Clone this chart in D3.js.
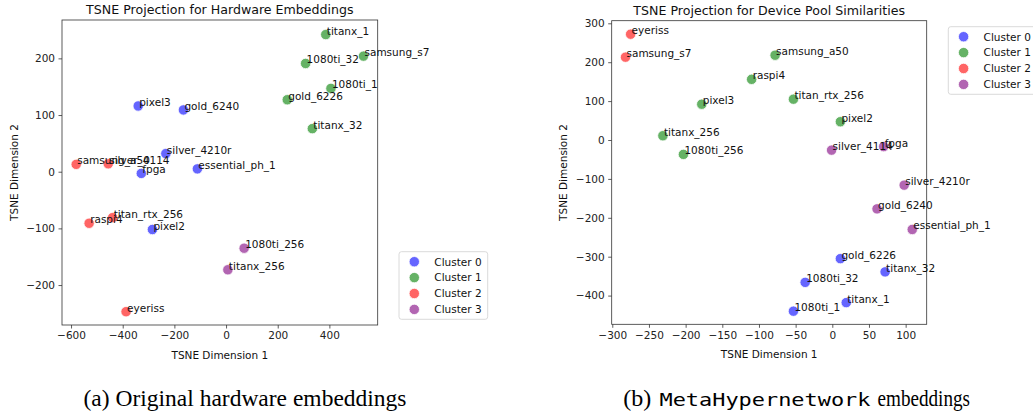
<!DOCTYPE html>
<html><head><meta charset="utf-8">
<script src="https://cdn.jsdelivr.net/npm/d3@7"></script>
<style>body{margin:0;background:#fff}svg{display:block}</style>
</head><body>
<svg id="c" width="1033" height="415"></svg>
<script>
// ---- data ----
const clusterNames = ["Cluster 0","Cluster 1","Cluster 2","Cluster 3"];
const clusterColors = ["blue","green","red","purple"];

const leftNames   = ["titanx_1","samsung_s7","1080ti_32","1080ti_1","gold_6226","titanx_32","pixel3","gold_6240","silver_4210r","samsung_a50","silver_4114","fpga","essential_ph_1","titan_rtx_256","raspi4","pixel2","1080ti_256","titanx_256","eyeriss"];
const leftX       = [386, 532, 308, 406, 237, 334, -340, -165, -233, -580, -456, -328, -111, -439, -530, -285, 70, 7, -387];
const leftY       = [242, 204, 191, 147, 127, 76, 116, 109, 32, 13, 14, -3, 5, -81, -91, -102, -135, -173, -247];
const leftCluster = [1, 1, 1, 1, 1, 1, 0, 0, 0, 2, 2, 0, 0, 2, 2, 0, 3, 3, 2];
const leftXTicks  = [-600, -400, -200, 0, 200, 400];
const leftYTicks  = [-200, -100, 0, 100, 200];

const rightNames   = ["eyeriss","samsung_s7","samsung_a50","raspi4","pixel3","titan_rtx_256","titanx_256","pixel2","1080ti_256","silver_4114","fpga","silver_4210r","gold_6240","essential_ph_1","gold_6226","titanx_32","1080ti_32","titanx_1","1080ti_1"];
const rightX       = [-275, -282, -78, -110, -178, -53, -231, 11, -203, -1, 70, 98, 61, 109, 11, 72, -37, 19, -53];
const rightY       = [272, 213, 218, 156, 92, 105, 11, 47, -37, -26, -17, -116, -177, -230, -305, -339, -366, -418, -440];
const rightCluster = [2, 2, 1, 1, 1, 1, 1, 1, 1, 3, 3, 3, 3, 3, 0, 0, 0, 0, 0];
const rightXTicks  = [-300, -250, -200, -150, -100, -50, 0, 50, 100];
const rightYTicks  = [-400, -300, -200, -100, 0, 100, 200, 300];

const titles = ["TSNE Projection for Hardware Embeddings", "TSNE Projection for Device Pool Similarities"];
const xLabel = "TSNE Dimension 1", yLabel = "TSNE Dimension 2";

// ---- drawing ----
const svg = d3.select("#c");
const font = "DejaVu Sans, sans-serif";
const fmt = v => (v < 0 ? "\u2212" + Math.abs(v) : String(v));

function panel(o) {
  const x = d3.scaleLinear().domain(o.xd).range([o.l, o.r]);
  const y = d3.scaleLinear().domain(o.yd).range([o.b, o.t]);
  const g = svg.append("g");
  const xa = g.append("g").attr("transform", `translate(0,${o.b})`)
    .call(d3.axisBottom(x).tickValues(o.xt).tickFormat(fmt).tickSize(3.5).tickPadding(3.5).tickSizeOuter(0));
  const ya = g.append("g").attr("transform", `translate(${o.l},0)`)
    .call(d3.axisLeft(y).tickValues(o.yt).tickFormat(fmt).tickSize(3.5).tickPadding(3.5).tickSizeOuter(0));
  [xa, ya].forEach(a => {
    a.select(".domain").remove();
    a.selectAll("line").attr("stroke", "#333").attr("stroke-width", 0.8);
    a.selectAll("text").attr("font-family", font).attr("font-size", 10.5).attr("fill", "#222");
  });
  g.append("rect").attr("x", o.l).attr("y", o.t).attr("width", o.r - o.l).attr("height", o.b - o.t)
    .attr("fill", "none").attr("stroke", "#333").attr("stroke-width", 0.8);
  g.append("text").attr("x", (o.l + o.r) / 2).attr("y", o.t - 6).attr("text-anchor", "middle")
    .attr("font-family", font).attr("font-size", 12.6).attr("fill", "#111").text(o.title);
  g.append("text").attr("x", (o.l + o.r) / 2).attr("y", o.b + 34).attr("text-anchor", "middle")
    .attr("font-family", font).attr("font-size", 10.5).attr("fill", "#111").text(xLabel);
  g.append("text").attr("transform", `translate(${o.yl},${(o.t + o.b) / 2}) rotate(-90)`).attr("text-anchor", "middle")
    .attr("font-family", font).attr("font-size", 10.5).attr("fill", "#111").text(yLabel);

  const idx = d3.range(o.names.length);
  g.selectAll("circle.pt").data(idx).join("circle").attr("class", "pt")
    .attr("cx", i => x(o.xs[i])).attr("cy", i => y(o.ys[i])).attr("r", 5.2)
    .attr("fill", i => clusterColors[o.cl[i]]).attr("stroke", "#fff").attr("stroke-width", 0.8)
    .attr("opacity", 0.6);
  g.selectAll("text.lbl").data(idx).join("text").attr("class", "lbl")
    .attr("x", i => x(o.xs[i]) + 1).attr("y", i => y(o.ys[i]))
    .attr("font-family", font).attr("font-size", 10.5).attr("fill", "#111").text(i => o.names[i]);

  // legend
  const lg = g.append("g");
  lg.append("rect").attr("x", o.lx).attr("y", o.ly).attr("width", 88.7).attr("height", 67.6).attr("rx", 2.5)
    .attr("fill", "#fff").attr("fill-opacity", 0.8).attr("stroke", "#d0d0d0").attr("stroke-width", 0.8);
  clusterNames.forEach((n, k) => {
    const cy = o.ly + 10 + k * 15.9;
    lg.append("circle").attr("cx", o.lx + 15.3).attr("cy", cy).attr("r", 5.2)
      .attr("fill", clusterColors[k]).attr("stroke", "#fff").attr("stroke-width", 0.8).attr("opacity", 0.6);
    lg.append("text").attr("x", o.lx + 35.3).attr("y", cy + 3.8)
      .attr("font-family", font).attr("font-size", 10.5).attr("fill", "#111").text(n);
  });
}

panel({l: 62, r: 377.7, t: 20, b: 325, xd: [-635, 587], yd: [-270.5, 267.7], xt: leftXTicks, yt: leftYTicks,
  names: leftNames, xs: leftX, ys: leftY, cl: leftCluster, title: titles[0], yl: 17.5, lx: 399, ly: 251.7});
panel({l: 611.7, r: 926.7, t: 20.7, b: 324.3, xd: [-300.8, 128.7], yd: [-473.8, 306.7], xt: rightXTicks, yt: rightYTicks,
  names: rightNames, xs: rightX, ys: rightY, cl: rightCluster, title: titles[1], yl: 567, lx: 948.3, ly: 26.7});

// captions
const capFont = "Liberation Serif, Times New Roman, serif";
const capY = 405.5;
svg.append("text").attr("x", 83.5).attr("y", capY)
  .attr("font-family", capFont).attr("font-size", 23).attr("fill", "#000")
  .attr("textLength", 323).attr("lengthAdjust", "spacingAndGlyphs")
  .text("(a) Original hardware embeddings");
svg.append("text").attr("x", 623.3).attr("y", capY)
  .attr("font-family", capFont).attr("font-size", 23).attr("fill", "#000")
  .attr("textLength", 28).attr("lengthAdjust", "spacingAndGlyphs").text("(b)");
svg.append("text").attr("x", 659.5).attr("y", capY)
  .attr("font-family", "DejaVu Sans Mono, monospace").attr("font-size", 18.5).attr("fill", "#000")
  .attr("textLength", 211).attr("lengthAdjust", "spacingAndGlyphs").text("MetaHypernetwork");
svg.append("text").attr("x", 877.5).attr("y", capY)
  .attr("font-family", capFont).attr("font-size", 23).attr("fill", "#000")
  .attr("textLength", 92.5).attr("lengthAdjust", "spacingAndGlyphs").text("embeddings");
</script>
</body></html>
